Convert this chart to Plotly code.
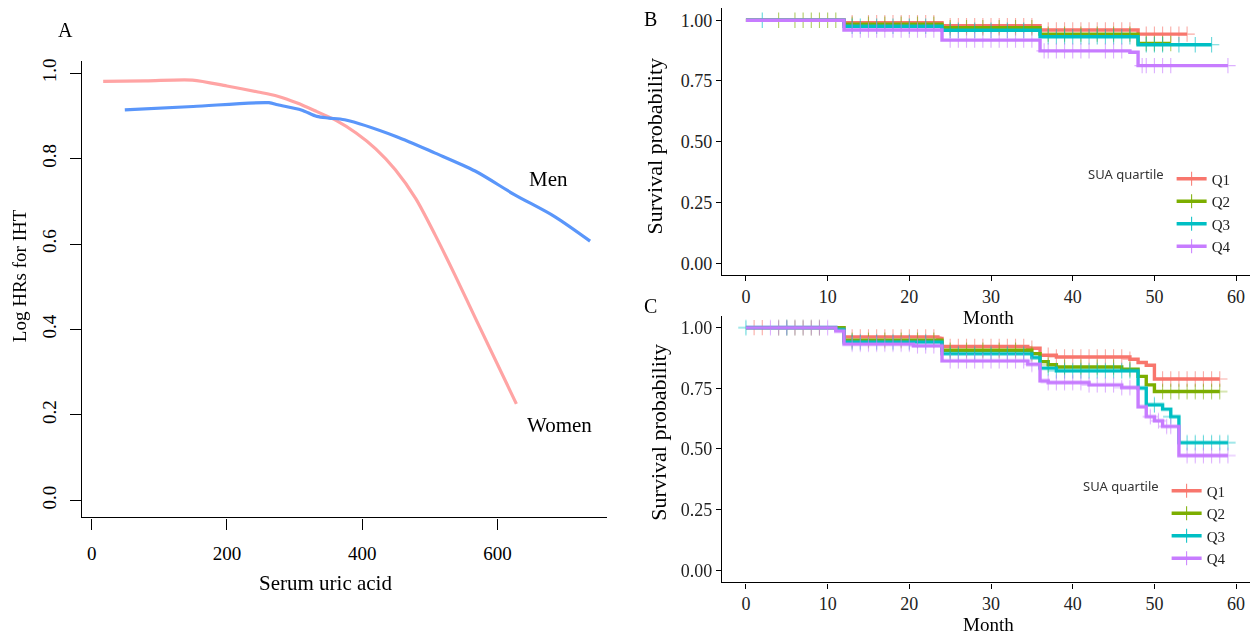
import numpy as np
import plotly.graph_objects as go

# ---- Panel A: restricted cubic spline curves (Serum uric acid vs log HR)
women_x = [17, 80, 149, 200, 246, 275, 304, 333, 362, 391, 420, 449, 479, 508, 537, 567, 628]
women_y = [0.981, 0.982, 0.984, 0.970, 0.956, 0.946, 0.930, 0.910, 0.889, 0.860, 0.823, 0.774,
           0.707, 0.621, 0.528, 0.428, 0.226]
men_x = [49, 150, 262, 275, 310, 333, 351, 374, 450, 508, 567, 625, 684, 737]
men_y = [0.914, 0.922, 0.931, 0.926, 0.914, 0.899, 0.895, 0.891, 0.852, 0.813, 0.771, 0.716, 0.665, 0.607]
a_xticks = [0, 200, 400, 600]
a_yticks = [0.0, 0.2, 0.4, 0.6, 0.8, 1.0]

# ---- Panel B: Kaplan-Meier by SUA quartile (step times / survival)
quartiles = ["Q1", "Q2", "Q3", "Q4"]
b_t = {
    "Q1": [0, 12, 24, 36, 48, 54],
    "Q2": [0, 12, 24, 36, 48, 52],
    "Q3": [0, 12, 24, 36, 48, 57],
    "Q4": [0, 12, 24, 36, 47, 48, 59],
}
b_s = {
    "Q1": [1.0, 0.990, 0.977, 0.960, 0.943, 0.943],
    "Q2": [1.0, 0.984, 0.969, 0.943, 0.904, 0.904],
    "Q3": [1.0, 0.975, 0.959, 0.932, 0.899, 0.899],
    "Q4": [1.0, 0.960, 0.918, 0.874, 0.868, 0.813, 0.813],
}
b_cens = {
    "Q1": [13, 15, 16, 17, 18, 19, 20, 21, 22, 23, 25, 26, 27, 28, 29, 30, 31, 32, 33, 34, 35,
           37, 38, 39, 40, 41, 42, 43, 44, 45, 46, 47, 49, 50, 51, 52, 53, 54],
    "Q2": [4, 6, 7, 8, 9, 10, 11, 13, 15, 17, 19, 21, 23, 25, 27, 29, 31, 33, 35, 37, 39, 41,
           43, 45, 47, 49, 50, 51, 52],
    "Q3": [2, 13, 14, 16, 18, 20, 22, 25, 26, 28, 30, 32, 34, 37, 38, 39, 40, 41, 42, 43, 44,
           45, 46, 47, 49, 50, 51, 53, 55, 57],
    "Q4": [13, 14, 15, 16, 17, 18, 19, 20, 21, 22, 23, 25, 26, 27, 28, 29, 30, 31, 32, 33, 34,
           35, 36.5, 37, 38, 39, 40, 41, 42, 44, 45, 46, 48.5, 49, 50, 51, 52, 59],
}

# ---- Panel C
c_t = {
    "Q1": [0, 12, 23.5, 24, 34.5, 36, 38, 47, 48, 49, 50, 58],
    "Q2": [0, 12, 24, 35, 36, 37, 38, 46, 48, 49, 50, 58],
    "Q3": [0, 11, 12, 24, 35, 36, 38, 48, 49, 51, 52, 53, 59],
    "Q4": [0, 11, 12, 20.5, 24, 34.5, 36, 37, 42, 46, 48, 49, 50, 51, 53, 59],
}
c_s = {
    "Q1": [1.0, 0.962, 0.955, 0.922, 0.915, 0.886, 0.879, 0.870, 0.856, 0.845, 0.788, 0.788],
    "Q2": [1.0, 0.948, 0.907, 0.893, 0.860, 0.847, 0.838, 0.829, 0.799, 0.764, 0.737, 0.737],
    "Q3": [1.0, 0.993, 0.941, 0.893, 0.877, 0.833, 0.822, 0.751, 0.682, 0.664, 0.633, 0.526, 0.526],
    "Q4": [1.0, 0.986, 0.932, 0.925, 0.863, 0.849, 0.781, 0.774, 0.764, 0.753, 0.674, 0.633,
           0.616, 0.593, 0.473, 0.473],
}
c_cens = {
    "Q1": [1, 2, 13, 14, 15, 16, 17, 18, 19, 20, 21, 22, 23, 25, 26, 27, 28, 29, 30, 31, 32, 33,
           34, 35, 37, 38, 39, 40, 41, 42, 43, 44, 45, 46, 47, 51, 52, 53, 54, 55, 56, 57, 58],
    "Q2": [4, 5, 6, 7, 8, 9, 13, 15, 17, 19, 21, 23, 25, 27, 29, 31, 33, 35, 37, 39, 41, 43, 45,
           47, 51, 52, 53, 54, 55, 56, 57, 58],
    "Q3": [0, 5, 13, 14, 16, 18, 20, 22, 25, 26, 28, 30, 32, 34, 37, 38, 39, 40, 41, 42, 43, 44,
           45, 46, 47, 50, 52, 54, 55, 56, 57, 58, 59],
    "Q4": [3, 4, 5, 6, 7, 8, 9, 10, 13, 14, 15, 16, 17, 18, 19, 20, 21, 22, 23, 25, 26, 27, 28,
           29, 30, 31, 32, 33, 34, 35, 37, 38, 39, 40, 41, 42, 43, 44, 45, 46, 47, 49.5, 50.5,
           51.5, 52, 54, 55, 56, 57, 58, 59],
}
km_ticks = [0, 10, 20, 30, 40, 50, 60]
surv_ticks = [0.0, 0.25, 0.5, 0.75, 1.0]
surv_labels = ["0.00", "0.25", "0.50", "0.75", "1.00"]

COLORS = {"Q1": "#F8766D", "Q2": "#7CAE00", "Q3": "#00BFC4", "Q4": "#C77CFF"}
SERIF = "Liberation Serif, Times New Roman, serif"
W, H = 1250, 637


def px_x(p):
    return p / W


def px_y(p):
    return 1 - p / H


def step_value(t, s, c):
    idx = np.searchsorted(np.array(t), np.array(c), side="right") - 1
    return [s[i] for i in idx]


fig = go.Figure()

# panel A curves
fig.add_trace(go.Scatter(x=women_x, y=women_y, mode="lines",
                         line=dict(color="#FFA4A4", width=3.2, shape="spline", smoothing=0.8),
                         showlegend=False, xaxis="x", yaxis="y"))
fig.add_trace(go.Scatter(x=men_x, y=men_y, mode="lines",
                         line=dict(color="#5A96FA", width=3.2, shape="spline", smoothing=0.8),
                         showlegend=False, xaxis="x", yaxis="y"))

# panels B and C
for t_d, s_d, c_d, ax, leg in [(b_t, b_s, b_cens, "2", "legend"), (c_t, c_s, c_cens, "3", "legend2")]:
    for q in quartiles:
        col = COLORS[q]
        fig.add_trace(go.Scatter(x=t_d[q], y=s_d[q], mode="lines", line=dict(color=col, width=3.4, shape="hv"),
                                 showlegend=False, xaxis="x" + ax, yaxis="y" + ax))
        fig.add_trace(go.Scatter(x=c_d[q], y=step_value(t_d[q], s_d[q], c_d[q]), mode="markers",
                                 marker=dict(symbol="cross-thin", size=11, line=dict(width=1.1, color=col)),
                                 opacity=0.6, showlegend=False, xaxis="x" + ax, yaxis="y" + ax))
    for q in quartiles:
        col = COLORS[q]
        fig.add_trace(go.Scatter(x=[None], y=[None], mode="lines+markers", name=q, legend=leg,
                                 line=dict(color=col, width=3.4),
                                 marker=dict(symbol="cross-thin", size=10, line=dict(width=1, color=col)),
                                 xaxis="x" + ax, yaxis="y" + ax))

axis_common = dict(showline=True, linecolor="black", linewidth=1.3, ticks="outside", tickcolor="black",
                   showgrid=False, zeroline=False, tickfont=dict(family=SERIF, size=19, color="black"))
km_axis = dict(showline=True, linecolor="black", linewidth=1.3, ticks="outside", tickcolor="black",
               ticklen=5, tickwidth=1.2, showgrid=False, zeroline=False,
               tickfont=dict(family=SERIF, size=18, color="#222"))

legend_common = dict(xanchor="left", yanchor="top", bgcolor="rgba(0,0,0,0)", tracegroupgap=0,
                     font=dict(family=SERIF, size=15, color="#222"), itemwidth=30,
                     title=dict(text="SUA quartile", side="left",
                                font=dict(family="Noto Sans, DejaVu Sans, sans-serif", size=13, color="#333")))

fig.update_layout(
    width=W, height=H, margin=dict(l=0, r=0, t=0, b=0),
    paper_bgcolor="white", plot_bgcolor="white",
    xaxis=dict(domain=[px_x(82), px_x(607)], range=[-14.3, 762], tickvals=a_xticks, ticklen=11,
               tickwidth=1.3, ticklabelstandoff=8, anchor="y", **axis_common),
    yaxis=dict(domain=[px_y(517), px_y(59)], range=[-0.0397, 1.029], tickvals=a_yticks,
               ticktext=[f"{v:.1f}" for v in a_yticks], tickangle=-90, ticklen=11, tickwidth=1.3,
               ticklabelstandoff=6, anchor="x", **axis_common),
    xaxis2=dict(domain=[px_x(722), 1.0], range=[-2.93, 61.7], tickvals=km_ticks, anchor="y2", **km_axis),
    yaxis2=dict(domain=[px_y(274.2), px_y(6.1)], range=[-0.05, 1.05], tickvals=surv_ticks,
                ticktext=surv_labels, anchor="x2", **km_axis),
    xaxis3=dict(domain=[px_x(722), 1.0], range=[-2.93, 61.7], tickvals=km_ticks, anchor="y3", **km_axis),
    yaxis3=dict(domain=[px_y(582.2), px_y(314.5)], range=[-0.05, 1.05], tickvals=surv_ticks,
                ticktext=surv_labels, anchor="x3", **km_axis),
    legend=dict(x=px_x(1086), y=px_y(161), **legend_common),
    legend2=dict(x=px_x(1081), y=px_y(474), **legend_common),
)

notes = [
    ("A", 65, 28, 20, 0),
    ("Men", 548, 178, 21, 0),
    ("Women", 559, 424, 21, 0),
    ("Serum uric acid", 326, 583, 21, 0),
    ("Log HRs for IHT", 19, 275, 19, -90),
    ("B", 650, 17, 20, 0),
    ("C", 650, 305, 20, 0),
    ("Survival probability", 655, 145, 22, -90),
    ("Survival probability", 659, 432, 22, -90),
    ("Month", 988, 316, 19, 0),
    ("Month", 988, 624, 19, 0),
]
for txt, x, y, size, ang in notes:
    fig.add_annotation(text=txt, x=px_x(x), y=px_y(y), xref="paper", yref="paper", showarrow=False,
                       xanchor="center", yanchor="middle", textangle=ang,
                       font=dict(family=SERIF, size=size, color="black"))

# the page's default body margin would push the figure 8px off the corner
fig.write_html("out.html", config={"displayModeBar": False},
               post_script="document.body.style.margin='0';")
